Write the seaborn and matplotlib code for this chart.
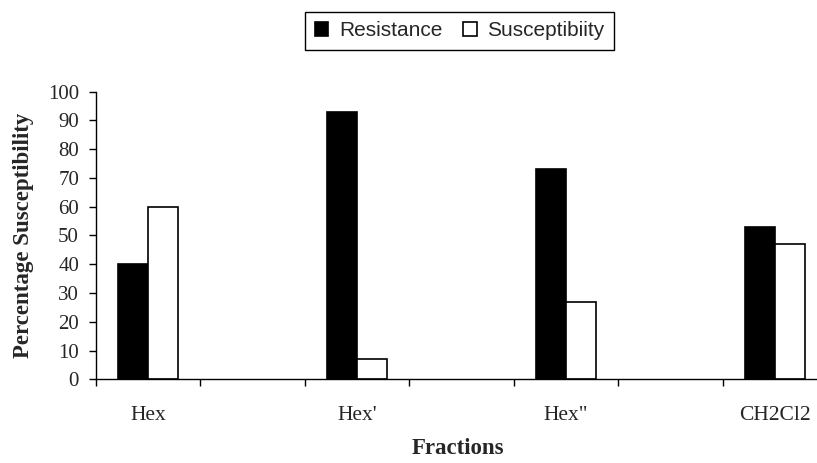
import pandas as pd
import seaborn as sns
import matplotlib.pyplot as plt

# values
fractions = ["Hex", "Hex'", 'Hex"', "CH2Cl2"]
resistance = [40, 93, 73, 53]
susceptibility = [60, 7, 27, 47]
groups = ["Resistance", "Susceptibiity"]
# empty slots between the fractions, as in the original
order = ["Hex", " ", "Hex'", "  ", 'Hex"', "   ", "CH2Cl2"]
yticks = list(range(0, 101, 10))

data = pd.DataFrame({
    "Fraction": fractions * 2,
    "Value": resistance + susceptibility,
    "Group": [groups[0]] * len(fractions) + [groups[1]] * len(fractions),
})

sns.set_style("ticks")
plt.rcParams["font.family"] = ["Liberation Serif", "DejaVu Serif"]

W, H = 817, 463
x0, x1, y0, y1 = 95.7, 827.0, 379.3, 91.7
fig = plt.figure(figsize=(W / 100, H / 100), dpi=100)
ax = fig.add_axes([x0 / W, (H - y0) / H, (x1 - x0) / W, (y0 - y1) / H])

sns.barplot(data=data, x="Fraction", y="Value", hue="Group", order=order,
            hue_order=groups, palette={groups[0]: "black", groups[1]: "white"},
            saturation=1, edgecolor="black", linewidth=1.2, width=0.574, ax=ax)

ax.set_ylim(0, 100)
ax.set_xlim(-0.5, len(order) - 0.5)
ax.set_yticks(yticks)
ax.tick_params(axis="y", length=5, width=1, pad=7, labelsize=15, color="black")
ax.set_xticks([i - 0.5 for i in range(len(order))], minor=True)
ax.tick_params(axis="x", which="major", length=0, pad=19, labelsize=15.5)
ax.tick_params(axis="x", which="minor", length=5, width=1, color="black")
sns.despine(ax=ax)
for s in ["left", "bottom"]:
    ax.spines[s].set_color("black")
    ax.spines[s].set_linewidth(1)

ax.set_ylabel("Percentage Susceptibility", fontsize=16.5, fontweight="bold")
ax.yaxis.set_label_coords(-0.084, 0.5)
ax.set_xlabel("Fractions", fontsize=16.5, fontweight="bold")
ax.xaxis.set_label_coords(0.4954, -0.205)

sns.move_legend(ax, loc="center", bbox_to_anchor=(459.5 / W, 1 - 31 / H),
                bbox_transform=fig.transFigure, ncol=2, title=None,
                frameon=True, fancybox=False, edgecolor="black", framealpha=1,
                prop={"family": "Liberation Sans", "size": 15},
                handlelength=0.65, handleheight=0.65, handletextpad=0.5,
                columnspacing=1.0, borderpad=0.45)
ax.get_legend().get_frame().set_linewidth(1)

fig.savefig("out.png", dpi=100)
